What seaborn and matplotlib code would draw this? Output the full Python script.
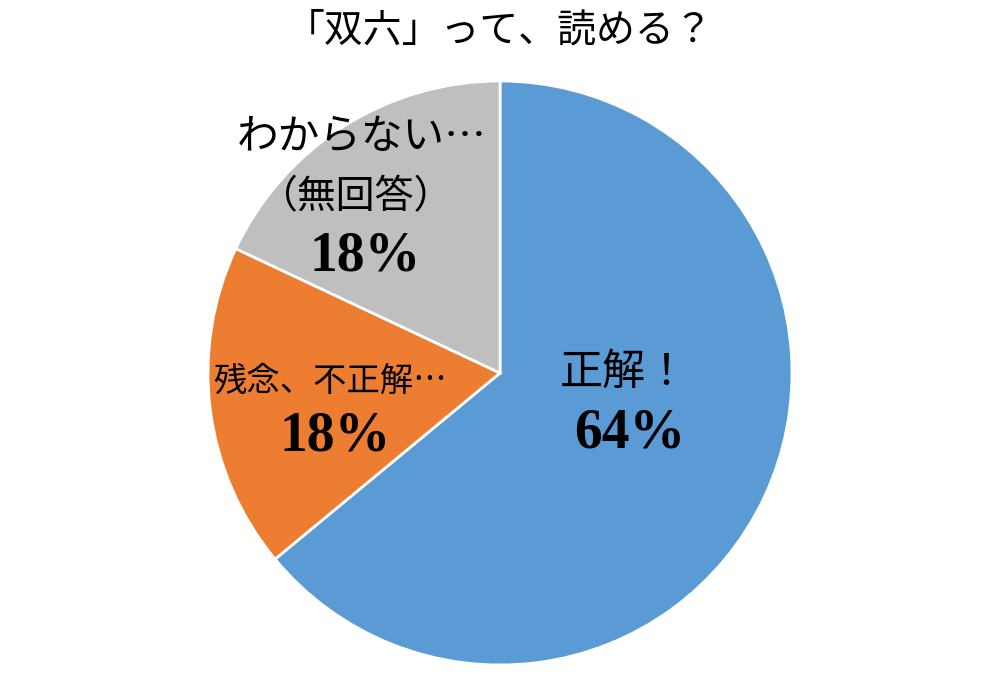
import matplotlib.pyplot as plt
import seaborn as sns
import numpy as np
import pandas as pd

# data
categories = ['正解！', '残念、不正解…', 'わからない…\n（無回答）']
shares = [64, 18, 18]
pct_labels = ['64%', '18%', '18%']
colors = ['#5B9BD5', '#ED7D31', '#BFBFBF']

sns.set_theme(style='white')
plt.rcParams['font.family'] = ['Noto Sans CJK JP', 'DejaVu Sans']
plt.rcParams['text.color'] = 'black'

df = pd.DataFrame({'category': categories, 'share': shares, 'pct': pct_labels})

fig = plt.figure(figsize=(10, 6.77), dpi=100)
fig.patch.set_facecolor('white')
# pie area: center (500, 373) px, radius ~292 px
ax = fig.add_axes([0.208, 12 / 677, 0.584, 584 / 677])
ax.pie(df['share'], colors=colors, startangle=90, counterclock=False,
       radius=1.0, wedgeprops=dict(edgecolor='white', linewidth=2))
ax.set_xlim(-1, 1)
ax.set_ylim(-1, 1)
ax.set_aspect('equal')
ax.axis('off')

def px(x, y):
    return (x - 500) / 292, (373 - y) / 292

serif = ['Liberation Serif', 'DejaVu Serif']

# labels
ax.text(*px(624, 373), df['category'][0], ha='center', va='center', fontsize=31)
ax.text(*px(630, 434), df['pct'][0], ha='center', va='center', fontsize=40,
        family=serif, weight='bold')

ax.text(*px(330, 381), df['category'][1], ha='center', va='center', fontsize=24)
ax.text(*px(335, 437), df['pct'][1], ha='center', va='center', fontsize=40,
        family=serif, weight='bold')

ax.text(*px(362, 137), 'わからない…', ha='center', va='center', fontsize=30)
ax.text(*px(356, 197), '（無回答）', ha='center', va='center', fontsize=28)
ax.text(*px(365, 257), df['pct'][2], ha='center', va='center', fontsize=40,
        family=serif, weight='bold')

fig.text(0.5, 1 - 30 / 677, '「双六」って、読める？', ha='center', va='center', fontsize=28)

fig.savefig('out.png', dpi=100, facecolor='white')
